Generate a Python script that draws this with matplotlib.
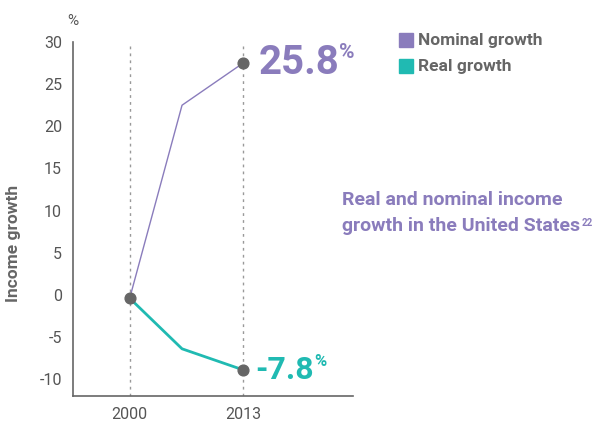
import matplotlib
matplotlib.use("Agg")
import matplotlib.pyplot as plt
from matplotlib.patches import Rectangle

years = [2000, 2006, 2013]
nominal = [-0.4, 22.5, 27.5]
real = [-0.4, -6.4, -8.9]
year_ticks = [2000, 2013]
y_ticks = [-10, -5, 0, 5, 10, 15, 20, 25, 30]

PURPLE = "#8a7cbc"
TEAL = "#20bab2"
GRAY = "#666666"
plt.rcParams["font.family"] = ["Roboto", "DejaVu Sans"]
plt.rcParams["axes.unicode_minus"] = False


def sup(fig, txt, s, size, color, dy=0, dx=0):
    """Put a small superscript right after a text, top aligned."""
    fig.canvas.draw()
    bb = txt.get_window_extent()
    fig.text(bb.x1 + dx, bb.y1 - dy, s, transform=None, fontsize=size,
             fontweight="bold", color=color, ha="left", va="top")


fig = plt.figure(figsize=(6, 4.22), dpi=100)
ax = fig.add_axes([73 / 600, 26 / 422, 280 / 600, 354 / 422])

for yr in year_ticks:
    ax.axvline(yr, color="#999999", linestyle=(0, (2, 3)), linewidth=1, zorder=1)

ax.plot(years, nominal, color=PURPLE, linewidth=1, zorder=2)
ax.plot(years, real, color=TEAL, linewidth=2, zorder=2)
ax.scatter([years[0], years[-1], years[-1]], [nominal[0], nominal[-1], real[-1]],
           s=60, color=GRAY, zorder=3)

ax.set_xlim(1993.5, 2025.6)
ax.set_ylim(-12, 30)
ax.set_xticks(year_ticks)
ax.set_yticks(y_ticks)
ax.tick_params(length=0, labelsize=11.5, labelcolor="#555555", pad=8)
for s in ("top", "right"):
    ax.spines[s].set_visible(False)
for s in ("left", "bottom"):
    ax.spines[s].set_color(GRAY)
    ax.spines[s].set_linewidth(1.2)

fig.text(14 / 600, 1 - 243 / 422, "Income growth", rotation=90, fontsize=12.5,
         fontweight="bold", color=GRAY, ha="center", va="center")
ax.text(0, 1.04, "%", transform=ax.transAxes, ha="center", va="bottom",
        fontsize=11, color="#555555")

t_nom = ax.annotate("25.8", (years[-1], nominal[-1]), xytext=(11, 0),
                    textcoords="offset points", ha="left", va="center",
                    fontsize=29, fontweight="bold", color=PURPLE)
t_real = ax.annotate("-7.8", (years[-1], real[-1]), xytext=(9, 0),
                     textcoords="offset points", ha="left", va="center",
                     fontsize=23, fontweight="bold", color=TEAL)

for i, (lab, col) in enumerate([("Nominal growth", PURPLE), ("Real growth", TEAL)]):
    yb = 1 - (40 + i * 26) / 422
    fig.patches.append(Rectangle((399 / 600, yb - 7 / 422), 14 / 600, 14 / 422,
                                 transform=fig.transFigure, color=col))
    fig.text(418 / 600, yb, lab, fontsize=12.5, fontweight="bold", color=GRAY,
             ha="left", va="center")

fig.text(342 / 600, 1 - 200 / 422, "Real and nominal income", fontsize=14,
         fontweight="bold", color=PURPLE, ha="left", va="center")
t_title = fig.text(342 / 600, 1 - 226 / 422, "growth in the United States", fontsize=14,
                   fontweight="bold", color=PURPLE, ha="left", va="center")

sup(fig, t_nom, "%", 15, PURPLE, dy=-1, dx=0)
sup(fig, t_real, "%", 12, TEAL, dy=-1, dx=0)
sup(fig, t_title, "22", 7, PURPLE, dy=1, dx=1)

fig.savefig("out.png", dpi=100)
